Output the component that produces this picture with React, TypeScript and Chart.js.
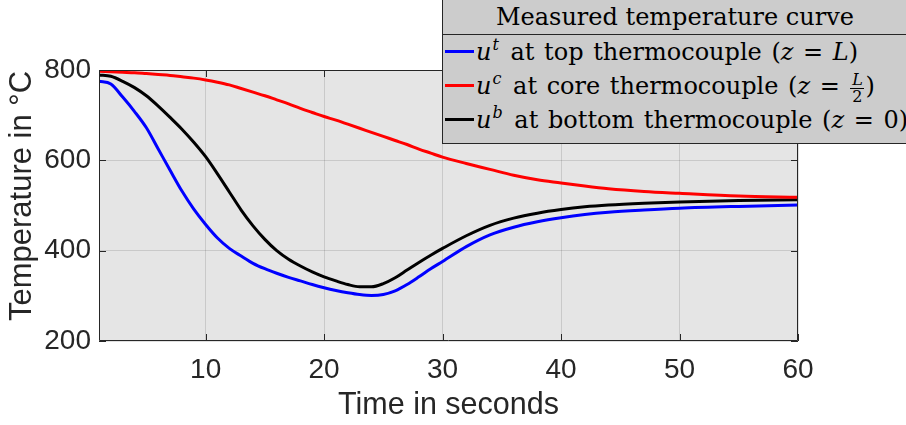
import React, { useEffect, useRef } from "react";
import { Chart, registerables } from "chart.js";

Chart.register(...registerables);

// Time in seconds
const times = [
  1, 2, 3, 4, 5, 6, 7, 8, 9, 10, 11, 12, 13, 14, 15, 16, 17, 18, 19, 20,
  21, 22, 23, 24, 25, 26, 27, 28, 29, 30, 32, 34, 36, 38, 40, 42, 44, 47, 50, 55, 60,
];
// u^t at top thermocouple (z = L)
const topTemps = [
  775, 769, 740, 708, 672, 625, 578, 532, 492, 458, 428, 405, 388, 372, 360, 350, 341, 333, 325, 318,
  312, 307, 303, 301, 303, 311, 325, 342, 360, 376, 409, 435, 452, 464, 473, 480, 485, 490, 494, 498, 501,
];
// u^c at core thermocouple (z = L/2)
const coreTemps = [
  797, 796, 795, 794, 792, 790, 788, 785, 782, 778, 773, 767, 759, 751, 743, 734, 725, 715, 706, 697,
  689, 680, 671, 662, 653, 644, 635, 625, 616, 607, 593, 580, 567, 557, 550, 543, 537, 531, 527, 521, 518,
];
// u^b at bottom thermocouple (z = 0)
const bottomTemps = [
  789, 786, 775, 761, 743, 720, 695, 669, 640, 608, 570, 530, 490, 455, 425, 400, 381, 366, 353, 342,
  333, 325, 320, 320, 327, 340, 357, 374, 390, 405, 433, 456, 472, 483, 491, 497, 501, 505, 508, 511, 513,
];

const xTicks = [10, 20, 30, 40, 50, 60];
const yTicks = [200, 400, 600, 800];
const xRange = [1, 60];
const yRange = [200, 800];

const xTitle = "Time in seconds";
const yTitle = "Temperature in °C";
const legendTitle = "Measured temperature curve";

const AXIS_COLOR = "#262626";
const SANS = "'Liberation Sans', Arial, Helvetica, sans-serif";
const SERIF = "'DejaVu Serif', serif";

const bgPlugin = {
  id: "plotBg",
  beforeDraw(chart: any) {
    const { ctx, chartArea: a } = chart;
    ctx.save();
    ctx.fillStyle = "#e5e5e5";
    ctx.fillRect(a.left, a.top, a.right - a.left, a.bottom - a.top);
    ctx.restore();
  },
};

const framePlugin = {
  id: "frame",
  afterDraw(chart: any) {
    const { ctx, chartArea: a, scales } = chart;
    ctx.save();
    ctx.strokeStyle = AXIS_COLOR;
    ctx.lineWidth = 1;
    ctx.beginPath();
    ctx.rect(a.left + 0.5, a.top + 0.5, a.right - a.left - 1, a.bottom - a.top - 1);
    const tl = 7;
    for (const v of xTicks) {
      const x = Math.round(scales.x.getPixelForValue(v)) + 0.5;
      ctx.moveTo(x, a.bottom);
      ctx.lineTo(x, a.bottom - tl);
      ctx.moveTo(x, a.top);
      ctx.lineTo(x, a.top + tl);
    }
    for (const v of yTicks) {
      const y = Math.round(scales.y.getPixelForValue(v)) + 0.5;
      ctx.moveTo(a.left, y);
      ctx.lineTo(a.left + tl, y);
      ctx.moveTo(a.right, y);
      ctx.lineTo(a.right - tl, y);
    }
    ctx.stroke();

    // y-axis title (drawn by hand to match the reference's vertical placement)
    ctx.translate(22.6, 196);
    ctx.rotate(-Math.PI / 2);
    ctx.font = `31px ${SANS}`;
    ctx.fillStyle = AXIS_COLOR;
    ctx.textAlign = "center";
    ctx.textBaseline = "middle";
    ctx.fillText(yTitle, 0, 0);
    ctx.restore();
  },
};

function series(values: number[], color: string) {
  return {
    data: times.map((t, i) => ({ x: t, y: values[i] })),
    borderColor: color,
    backgroundColor: color,
    borderWidth: 3,
    pointRadius: 0,
    fill: false,
    cubicInterpolationMode: "monotone" as const,
  };
}

const mathI: React.CSSProperties = { fontStyle: "italic" };
const supS: React.CSSProperties = {
  fontSize: 16,
  lineHeight: 0,
  verticalAlign: 10,
  fontStyle: "italic",
  marginLeft: 1,
  marginRight: 2,
};

function Sample({ color }: { color: string }) {
  return (
    <span
      style={{
        display: "inline-block",
        width: 29,
        height: 3,
        background: color,
        verticalAlign: 7,
        marginLeft: 2,
        marginRight: 2,
      }}
    />
  );
}

function Frac() {
  return (
    <span style={{ position: "relative", display: "inline-block", width: 14, height: 20, margin: "0 1px" }}>
      <span
        style={{
          position: "absolute",
          left: 0,
          right: 0,
          bottom: 6,
          fontSize: 16,
          lineHeight: "16px",
          textAlign: "center",
          fontStyle: "italic",
        }}
      >
        L
      </span>
      <span style={{ position: "absolute", left: 0, right: 0, bottom: 5, height: 1, background: "#000" }} />
      <span
        style={{
          position: "absolute",
          left: 0,
          right: 0,
          top: 15,
          fontSize: 16,
          lineHeight: "16px",
          textAlign: "center",
        }}
      >
        2
      </span>
    </span>
  );
}

export default function App() {
  const ref = useRef<HTMLCanvasElement>(null);

  useEffect(() => {
    document.body.style.margin = "0";
    const canvas = ref.current;
    if (!canvas) return;
    const tickFont = { family: SANS, size: 28 };
    const chart = new Chart(canvas, {
      type: "line",
      data: {
        datasets: [
          series(topTemps, "#0000ff"),
          series(coreTemps, "#ff0000"),
          series(bottomTemps, "#000000"),
        ],
      },
      options: {
        animation: false,
        responsive: false,
        events: [],
        layout: { padding: { left: 0, right: 108, top: 70, bottom: 0 } },
        scales: {
          x: {
            type: "linear",
            min: xRange[0],
            max: xRange[1],
            afterBuildTicks: (s: any) => {
              s.ticks = xTicks.map((v) => ({ value: v }));
            },
            afterFit: (s: any) => {
              s.height = 84;
            },
            grid: { color: "rgba(38,38,38,0.15)", drawTicks: false, lineWidth: 1 },
            border: { display: false },
            ticks: { font: tickFont, color: AXIS_COLOR, padding: 12, maxRotation: 0, autoSkip: false },
            title: {
              display: true,
              text: xTitle,
              font: { family: SANS, size: 30.5 },
              color: AXIS_COLOR,
              padding: { top: 0, bottom: 1 },
            },
          },
          y: {
            type: "linear",
            min: yRange[0],
            max: yRange[1],
            afterBuildTicks: (s: any) => {
              s.ticks = yTicks.map((v) => ({ value: v }));
            },
            afterFit: (s: any) => {
              s.width = 99;
            },
            grid: { color: "rgba(38,38,38,0.15)", drawTicks: false, lineWidth: 1 },
            border: { display: false },
            ticks: { font: tickFont, color: AXIS_COLOR, padding: 8, autoSkip: false },
            title: { display: false, text: yTitle },
          },
        },
        plugins: {
          legend: { display: false },
          tooltip: { enabled: false },
        },
      },
      plugins: [bgPlugin, framePlugin],
    });
    return () => chart.destroy();
  }, []);

  const rowStyle: React.CSSProperties = {
    height: 34,
    lineHeight: "34px",
    whiteSpace: "nowrap",
    wordSpacing: 2,
  };

  return (
    <div style={{ position: "fixed", left: 0, top: 0, width: 906, height: 425, overflow: "hidden", background: "#fff" }}>
      <canvas ref={ref} width={906} height={425} style={{ display: "block" }} />
      <div
        style={{
          position: "absolute",
          left: 442,
          top: -1,
          width: 480,
          height: 145,
          boxSizing: "border-box",
          border: `1px solid ${AXIS_COLOR}`,
          background: "#cccccc",
          fontFamily: SERIF,
          fontSize: 24,
          color: "#000",
        }}
      >
        <div
          style={{
            height: 35,
            lineHeight: "34px",
            borderBottom: `1px solid ${AXIS_COLOR}`,
            boxSizing: "border-box",
            width: 464,
            textAlign: "center",
            whiteSpace: "nowrap",
          }}
        >
          {legendTitle}
        </div>
        <div style={rowStyle}>
          <Sample color="#0000ff" />
          <span style={mathI}>u</span>
          <span style={supS}>t</span> at top thermocouple (<span style={mathI}>z</span>
          {" = "}
          <span style={mathI}>L</span>)
        </div>
        <div style={rowStyle}>
          <Sample color="#ff0000" />
          <span style={mathI}>u</span>
          <span style={supS}>c</span> at core thermocouple (<span style={mathI}>z</span>
          {" = "}
          <Frac />)
        </div>
        <div style={rowStyle}>
          <Sample color="#000000" />
          <span style={mathI}>u</span>
          <span style={supS}>b</span> at bottom thermocouple (<span style={mathI}>z</span>
          {" = "}0)
        </div>
      </div>
    </div>
  );
}
